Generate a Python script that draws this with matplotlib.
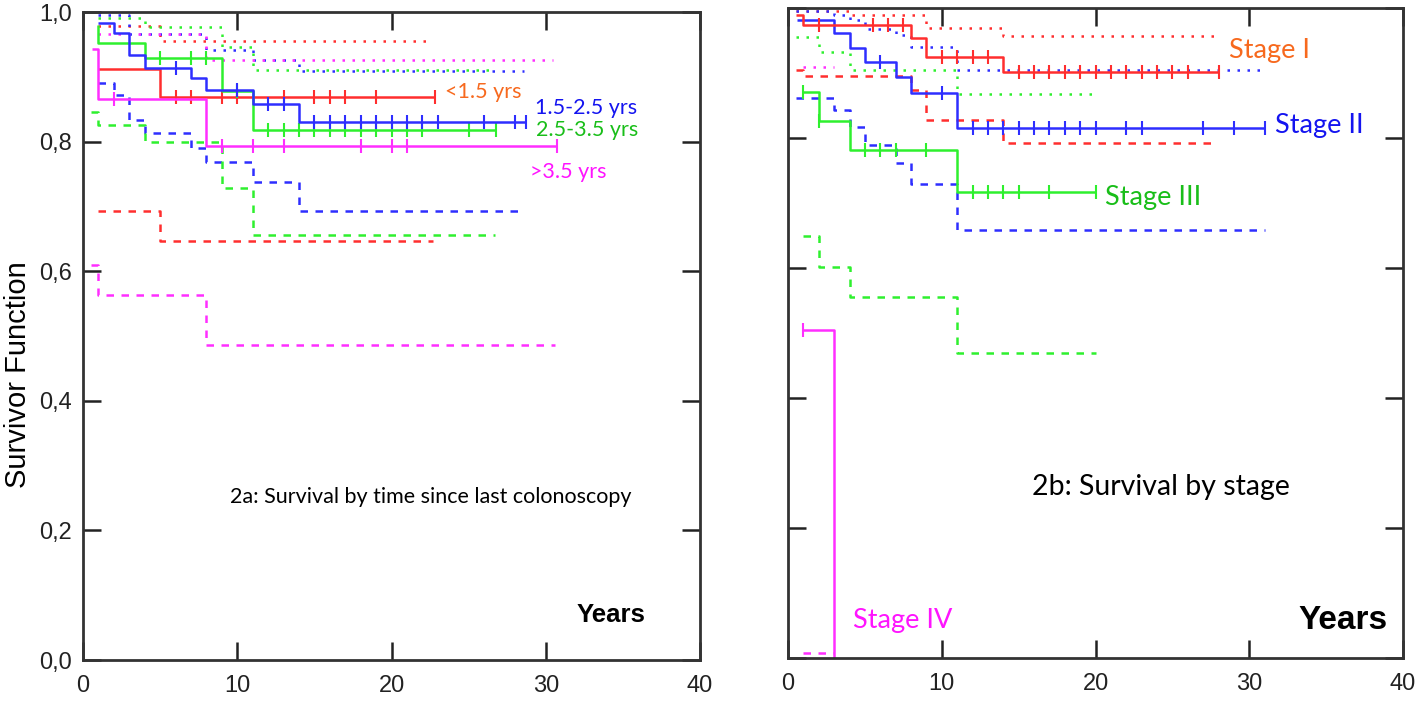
import numpy as np
import matplotlib
matplotlib.use("Agg")
import matplotlib.pyplot as plt

# ---------------- data: panel 2a (time since last colonoscopy) ----------------
a_red_solid_t = [1, 5, 22.8]
a_red_solid_s = [0.912, 0.869]
a_red_solid_c = [6, 7, 9, 10, 13, 15, 16, 17, 19, 22.8]

a_blue_solid_t = [1, 2, 3, 4, 7, 8, 11, 14, 28.7]
a_blue_solid_s = [0.983, 0.968, 0.934, 0.914, 0.898, 0.880, 0.858, 0.830]
a_blue_solid_c = [6, 10, 12, 13, 15, 16, 17, 18, 19, 20, 21, 22, 23, 26, 28, 28.7]

a_green_solid_t = [1, 1, 4, 9, 11, 26.8]
a_green_solid_s = [0.98, 0.952, 0.929, 0.878, 0.818]
a_green_solid_c = [5, 7, 8, 10, 12, 13, 14, 15, 16, 17, 18, 19, 20, 21, 22, 25, 26.8]

a_mag_solid_t = [0.6, 1, 8, 30.7]
a_mag_solid_s = [0.943, 0.866, 0.793]
a_mag_solid_c = [2, 9, 11, 13, 18, 20, 21, 30.7]

a_red_dash_t = [1, 5, 22.7]
a_red_dash_s = [0.693, 0.647]
a_blue_dash_t = [1, 2, 3, 4, 7, 8, 11, 14, 28.3]
a_blue_dash_s = [0.890, 0.872, 0.833, 0.813, 0.790, 0.768, 0.738, 0.693]
a_green_dash_t = [0.5, 1, 4, 9, 11, 26.7]
a_green_dash_s = [0.846, 0.826, 0.800, 0.728, 0.656]
a_mag_dash_t = [0.5, 1, 8, 30.6]
a_mag_dash_s = [0.61, 0.563, 0.486]

a_red_dot_t = [1, 5, 22.5]
a_red_dot_s = [0.978, 0.955]
a_blue_dot_t = [1, 3, 8, 11, 14, 28.6]
a_blue_dot_s = [0.995, 0.966, 0.941, 0.926, 0.909]
a_green_dot_t = [1, 4, 9, 11, 26.7]
a_green_dot_s = [0.99, 0.977, 0.946, 0.911]
a_mag_dot_t = [1, 8, 30.5]
a_mag_dot_s = [0.966, 0.926]

a_labels = ["<1.5 yrs", "1.5-2.5 yrs", "2.5-3.5 yrs", ">3.5 yrs"]

# ---------------- data: panel 2b (stage) ----------------
b_red_solid_t = [0.5, 1, 8, 9, 14, 28]
b_red_solid_s = [0.99, 0.974, 0.954, 0.925, 0.902]
b_red_solid_c = [2, 5.5, 6.5, 7.5, 10, 11, 12, 13, 15, 16, 17, 18, 19, 20, 21, 22, 23, 24, 25, 26, 28]

b_blue_solid_t = [0.6, 3, 4, 5, 7, 8, 11, 31]
b_blue_solid_s = [0.982, 0.961, 0.938, 0.917, 0.894, 0.869, 0.815]
b_blue_solid_c = [6, 10, 12, 13, 14, 15, 16, 17, 18, 19, 20, 22, 23, 27, 29, 31]

b_green_solid_t = [1, 2, 4, 11, 20]
b_green_solid_s = [0.871, 0.826, 0.782, 0.717]
b_green_solid_c = [1, 2, 5, 6, 7, 9, 12, 13, 14, 15, 17, 20]

b_mag_solid_t = [1, 3, 3]
b_mag_solid_s = [0.505, 0.0]
b_mag_solid_c = [1]

b_red_dash_t = [0.5, 1, 8, 9, 14, 27.9]
b_red_dash_s = [0.905, 0.895, 0.874, 0.828, 0.792]
b_blue_dash_t = [0.5, 3, 4, 5, 7, 8, 11, 31]
b_blue_dash_s = [0.862, 0.843, 0.817, 0.789, 0.762, 0.729, 0.658]
b_green_dash_t = [1, 2, 4, 11, 20]
b_green_dash_s = [0.649, 0.602, 0.555, 0.469]
b_mag_dash_t = [1, 3]
b_mag_dash_s = [0.007]

b_red_dot_t = [0.5, 4, 9, 14, 27.7]
b_red_dot_s = [0.995, 0.990, 0.969, 0.957]
b_blue_dot_t = [0.5, 3, 4, 5, 7, 8, 11, 30.7]
b_blue_dot_s = [0.995, 0.99, 0.982, 0.968, 0.958, 0.94, 0.905]
b_green_dot_t = [0.5, 2, 4, 11, 20]
b_green_dot_s = [0.955, 0.932, 0.905, 0.868]
b_mag_dot_t = [1, 3]
b_mag_dot_s = [0.909]

b_labels = ["Stage I", "Stage II", "Stage III", "Stage IV"]

x_ticks = [0, 10, 20, 30, 40]
y_ticks = [0.0, 0.2, 0.4, 0.6, 0.8, 1.0]
y_ticklabels = ["0,0", "0,2", "0,4", "0,6", "0,8", "1,0"]

# ---------------- style ----------------
RED, BLUE, GREEN, MAG = "#FF2E2E", "#2E2EFF", "#2EF02E", "#FF2EFF"
TXT_OR, TXT_BL, TXT_GR, TXT_MG = "#F7691E", "#1414F0", "#19BE19", "#FF14FF"
LW = 1.8
DASH = (0, (3.0, 3.0))
DOT = (0, (1, 3.0))
LBLFONT = ["Lato", "DejaVu Sans"]
TICKFONT = ["Liberation Sans Narrow", "Liberation Sans", "DejaVu Sans"]
ARIAL = ["Liberation Sans", "DejaVu Sans"]

fig = plt.figure(figsize=(14.18, 7.03), dpi=100)
axA = fig.add_axes([83 / 1418, 1 - 660 / 703, 617 / 1418, 648 / 703])
axB = fig.add_axes([788 / 1418, 1 - 658 / 703, 615 / 1418, 650 / 703])


def km(ax, t, s, color, ls, cens=None):
    ys = list(s) + [s[-1]]
    ax.step(t, ys, where="post", color=color, lw=LW, linestyle=ls,
            solid_capstyle="butt", dash_capstyle="butt")
    if cens:
        idx = np.searchsorted(t, cens, side="right") - 1
        idx = np.clip(idx, 0, len(s) - 1)
        cy = [s[i] for i in idx]
        ax.plot(cens, cy, linestyle="none", marker="|", markersize=10,
                markeredgewidth=1.5, color=color)


# panel A
km(axA, a_red_dot_t, a_red_dot_s, RED, DOT)
km(axA, a_blue_dot_t, a_blue_dot_s, BLUE, DOT)
km(axA, a_green_dot_t, a_green_dot_s, GREEN, DOT)
km(axA, a_mag_dot_t, a_mag_dot_s, MAG, DOT)
km(axA, a_red_dash_t, a_red_dash_s, RED, DASH)
km(axA, a_blue_dash_t, a_blue_dash_s, BLUE, DASH)
km(axA, a_green_dash_t, a_green_dash_s, GREEN, DASH)
km(axA, a_mag_dash_t, a_mag_dash_s, MAG, DASH)
km(axA, a_red_solid_t, a_red_solid_s, RED, "-", a_red_solid_c)
km(axA, a_green_solid_t, a_green_solid_s, GREEN, "-", a_green_solid_c)
km(axA, a_blue_solid_t, a_blue_solid_s, BLUE, "-", a_blue_solid_c)
km(axA, a_mag_solid_t, a_mag_solid_s, MAG, "-", a_mag_solid_c)

# panel B
km(axB, b_red_dot_t, b_red_dot_s, RED, DOT)
km(axB, b_blue_dot_t, b_blue_dot_s, BLUE, DOT)
km(axB, b_green_dot_t, b_green_dot_s, GREEN, DOT)
km(axB, b_mag_dot_t, b_mag_dot_s, MAG, DOT)
km(axB, b_red_dash_t, b_red_dash_s, RED, DASH)
km(axB, b_blue_dash_t, b_blue_dash_s, BLUE, DASH)
km(axB, b_green_dash_t, b_green_dash_s, GREEN, DASH)
km(axB, b_mag_dash_t, b_mag_dash_s, MAG, DASH)
km(axB, b_green_solid_t, b_green_solid_s, GREEN, "-", b_green_solid_c)
km(axB, b_blue_solid_t, b_blue_solid_s, BLUE, "-", b_blue_solid_c)
km(axB, b_red_solid_t, b_red_solid_s, RED, "-", b_red_solid_c)
km(axB, b_mag_solid_t, b_mag_solid_s, MAG, "-", b_mag_solid_c)

for ax in (axA, axB):
    ax.set_xlim(0, 40)
    ax.set_ylim(0, 1)
    ax.set_xticks(x_ticks)
    ax.set_yticks(y_ticks)
    ax.tick_params(direction="in", length=13, width=1.8, color="#222222",
                   top=True, right=True, labelsize=17)
    ax.tick_params(axis="x", pad=11)
    ax.tick_params(axis="y", pad=8)
    for sp in ax.spines.values():
        sp.set_linewidth(2.0)
        sp.set_color("#333333")
    for lab in ax.get_xticklabels():
        lab.set_family(TICKFONT)
        lab.set_color("#222222")

axA.set_yticklabels(y_ticklabels, family=TICKFONT, color="#222222", fontsize=17)
axB.set_yticklabels([])
axA.set_ylabel("Survivor Function", fontsize=21, family=ARIAL)
axA.yaxis.set_label_coords(-0.083, 0.441)

# annotations A
axA.text(23.5, 0.877, a_labels[0], color=TXT_OR, fontsize=15.5, family=LBLFONT, va="center")
axA.text(29.3, 0.852, a_labels[1], color=TXT_BL, fontsize=15.5, family=LBLFONT, va="center")
axA.text(29.4, 0.818, a_labels[2], color=TXT_GR, fontsize=15.5, family=LBLFONT, va="center")
axA.text(29.0, 0.753, a_labels[3], color=TXT_MG, fontsize=15.5, family=LBLFONT, va="center")
axA.text(9.5, 0.252, "2a: Survival by time since last colonoscopy", color="black",
         fontsize=15.5, family=LBLFONT, va="center")
axA.text(32.0, 0.069, "Years", color="black", fontsize=18.5, fontweight="bold",
         family=ARIAL, va="center")

# annotations B
axB.text(28.7, 0.935, b_labels[0], color=TXT_OR, fontsize=19.5, family=LBLFONT, va="center")
axB.text(31.7, 0.820, b_labels[1], color=TXT_BL, fontsize=19.5, family=LBLFONT, va="center")
axB.text(20.6, 0.709, b_labels[2], color=TXT_GR, fontsize=19.5, family=LBLFONT, va="center")
axB.text(4.2, 0.058, b_labels[3], color=TXT_MG, fontsize=19.5, family=LBLFONT, va="center")
axB.text(15.9, 0.263, "2b: Survival by stage", color="black", fontsize=20.5,
         family=LBLFONT, va="center")
axB.text(33.2, 0.058, "Years", color="black", fontsize=24, fontweight="bold",
         family=ARIAL, va="center")

fig.savefig("out.png", dpi=100)
